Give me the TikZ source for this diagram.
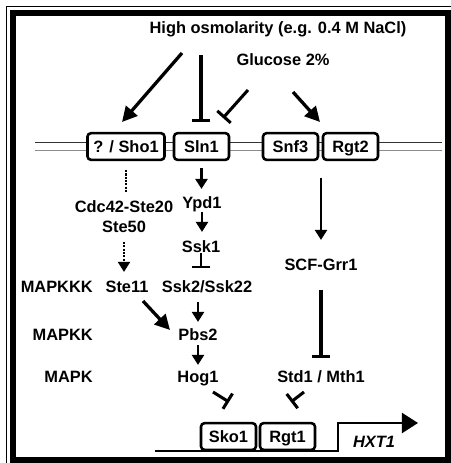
\documentclass[tikz,border=0pt]{standalone}
\usepackage{fontspec}
\setmainfont{Liberation Sans}
\usetikzlibrary{arrows.meta}
\definecolor{memtop}{HTML}{333333}
\definecolor{membot}{HTML}{8C8C8C}

\begin{document}
\begin{tikzpicture}[x=0.03cm, y=-0.03cm,
  lbl/.style={font=\fontsize{14}{16}\selectfont\bfseries, inner sep=0pt, text height=10pt, text depth=0pt},
  prot/.style={lbl, draw, fill=white, line width=2.2pt, rounded corners=3pt, inner xsep=5pt,
               minimum width=1.65cm, minimum height=0.8cm},
  act/.style={-{Triangle[length=0.3cm, width=0.36cm]}, line width=2pt, shorten <=0.2cm, shorten >=0.24cm},
  bigact/.style={-{Triangle[length=0.45cm, width=0.45cm]}, line width=2.8pt},
  inh/.style={-{Bar[width=0.54cm]}, line width=2.6pt},
  dots/.style={densely dotted, line width=1.8pt, shorten <=0.27cm, shorten >=0.27cm}]
\clip (0,0) rectangle (451,463);
\draw[line width=0.7pt] (6.5,6.5) rectangle (480,480);
\draw[line width=0.18cm] (13,13) rectangle (448,459.5);
\draw[memtop, line width=1pt] (35,142.5) -- (442,142.5);
\draw[membot, line width=1pt] (35,150.5) -- (442,150.5);
\draw[line width=1.7pt, -{Triangle[length=0.48cm, width=0.6cm]}] (155,451) -- (338,451) -- (338,423) -- (418,423);
\node[lbl] (hi)    at (278,28)  {High osmolarity (e.g. 0.4 M NaCl)};
\node[lbl] (glc)   at (283,60)  {Glucose 2\%};
\node[prot] (sho)  at (126,146.5) {? / Sho1};
\node[prot] (sln)  at (201.5,146.5) {Sln1};
\node[prot] (snf)  at (290.5,146.5) {Snf3};
\node[prot] (rgt)  at (350.5,146.5) {Rgt2};
\node[lbl] (cdc)   at (124,207) {Cdc42-Ste20};
\node[lbl] (ste50) at (124,227) {Ste50};
\node[lbl] (ypd)   at (202,203) {Ypd1};
\node[lbl] (ssk1)  at (201,247) {Ssk1};
\node[lbl] (scf)   at (321,265) {SCF-Grr1};
\node[lbl, anchor=east] (kkk) at (93,287) {MAPKKK};
\node[lbl] (ste11) at (127,287) {Ste11};
\node[lbl] (ssk2)  at (207,287) {Ssk2/Ssk22};
\node[lbl, anchor=east] (kk)  at (93,335) {MAPKK};
\node[lbl] (pbs)   at (198,335) {Pbs2};
\node[lbl, anchor=east] (k)   at (93,377) {MAPK};
\node[lbl] (hog)   at (198,377) {Hog1};
\node[lbl] (std)   at (321,377) {Std1 / Mth1};
\node[prot] (sko)  at (228.5,436.5) {Sko1};
\node[prot] (rgt1) at (287.5,436.5) {Rgt1};
\node[lbl, font=\fontsize{14}{16}\selectfont\bfseries\itshape] (hxt) at (374,442) {HXT1};
\coordinate (hiL)   at (182,53);
\coordinate (hiM)   at (201,55);
\coordinate (shoT)  at (122,122);
\coordinate (glL)   at (248,90);
\coordinate (slnT)  at (223,118);
\coordinate (glR)   at (293,92);
\coordinate (rgtT)  at (320,122);
\coordinate (s11o)  at (143,301);
\coordinate (pbsI)  at (170,330);
\coordinate (hogO)  at (213,392);
\coordinate (skoI)  at (229,402);
\coordinate (stdO)  at (304,392);
\coordinate (rgt1I) at (291,402);
\draw[bigact] (hiL) -- (shoT);
\draw[inh, shorten >=0.3cm] (hiM) -- (hiM |- sln.north);
\draw[inh] (glL) -- (slnT);
\draw[bigact] (glR) -- (rgtT);
\draw[dots] (sho.south) -- (sho.south |- cdc.north);
\draw[dots, -{Triangle[length=0.3cm, width=0.36cm]}] (ste50.south) -- (ste50.south |- ste11.north);
\draw[act] (sln.south) -- (sln.south |- ypd.north);
\draw[act, shorten <=0.09cm, shorten >=0.27cm] (ypd.south) -- (ypd.south |- ssk1.north);
\draw[inh, line width=2pt, shorten >=0.39cm] (ssk1.south) -- (ssk1.south |- ssk2.north);
\draw[act, shorten <=0.27cm, shorten >=0.21cm] (pbs.north |- ssk2.south) -- (pbs.north);
\draw[act, shorten <=0.12cm, shorten >=0.18cm] (pbs.south) -- (hog.north);
\draw[bigact] (s11o) -- (pbsI);
\draw[act, shorten <=0.51cm, shorten >=0.57cm] (scf.north |- rgt.south) -- (scf.north);
\draw[inh, shorten <=0.57cm, shorten >=0.39cm] (scf.south) -- (scf.south |- std.north);
\draw[inh] (hogO) -- (skoI);
\draw[inh] (stdO) -- (rgt1I);
\end{tikzpicture}
\end{document}
